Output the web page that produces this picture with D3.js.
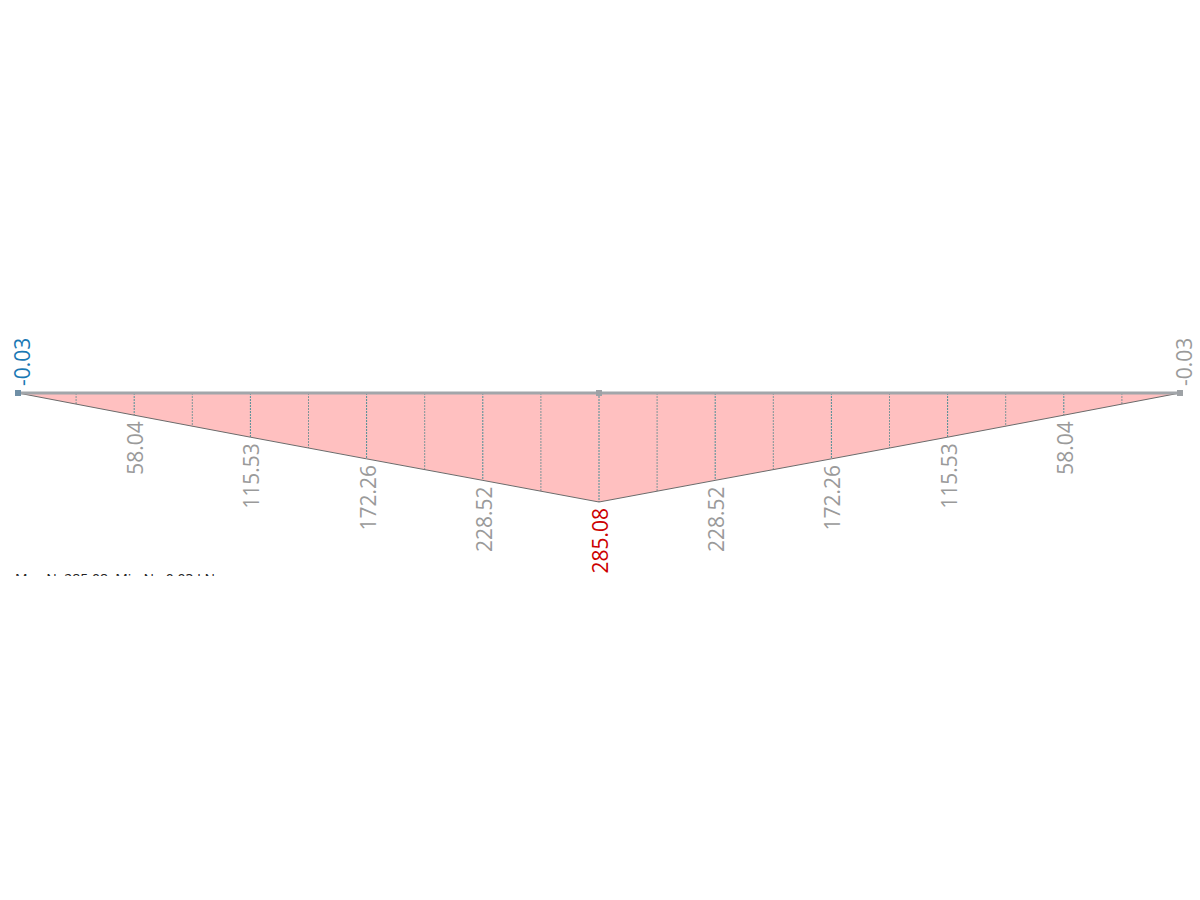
<!DOCTYPE html>
<html><head><meta charset="utf-8">
<script src="https://cdn.jsdelivr.net/npm/d3@7"></script>
<style>html,body{margin:0;padding:0;background:#fff;}svg{display:block;}</style>
</head><body>
<svg id="chart" width="1200" height="900"></svg>
<script>
// Beam positions (fraction of length) where result values are given
const positions = [0, 0.1, 0.2, 0.3, 0.4, 0.5, 0.6, 0.7, 0.8, 0.9, 1.0];
const values = [-0.03, 58.04, 115.53, 172.26, 228.52, 285.08, 228.52, 172.26, 115.53, 58.04, -0.03];
const labels = ["-0.03", "58.04", "115.53", "172.26", "228.52", "285.08", "228.52", "172.26", "115.53", "58.04", "-0.03"];
// hatch (section) lines along the beam
const hatchPositions = [0.05,0.1,0.15,0.2,0.25,0.3,0.35,0.4,0.45,0.5,0.55,0.6,0.65,0.7,0.75,0.8,0.85,0.9,0.95];
const nodePositions = [0, 0.5, 1];
const footerText = "Max N: 285.08, Min N: -0.03 kN";

const svg = d3.select("#chart");
const x = d3.scaleLinear().domain([0, 1]).range([18, 1180]);
const y = d3.scaleLinear().domain([0, 285.08]).range([393, 502]);
const valAt = d3.scaleLinear().domain(positions).range(values);

// area
const area = d3.area().x((d, i) => x(positions[i])).y0(y(0)).y1(d => y(Math.max(d, 0)));
svg.append("path").datum(values).attr("d", area).attr("fill", "#ffc0c0").attr("stroke", "none");

// hatch lines
svg.selectAll("line.hatch").data(hatchPositions).join("line")
  .attr("x1", d => x(d)).attr("x2", d => x(d))
  .attr("y1", y(0)).attr("y2", d => y(valAt(d)))
  .attr("stroke", (d, i) => i % 2 === 1 ? "#4f8f96" : "#7f9598")
  .attr("stroke-width", 1).attr("stroke-dasharray", "2,1");

// outline
const line = d3.line().x((d, i) => x(positions[i])).y(d => y(Math.max(d, 0)));
svg.append("path").datum(values).attr("d", line).attr("fill", "none").attr("stroke", "#6b6b6b").attr("stroke-width", 1);

// beam
svg.append("line").attr("x1", x(0)).attr("x2", x(1)).attr("y1", y(0)).attr("y2", y(0))
  .attr("stroke", "#a2a6aa").attr("stroke-width", 3);

// nodes
svg.selectAll("rect.node").data(nodePositions).join("rect")
  .attr("x", d => x(d) - 3).attr("y", y(0) - 3).attr("width", 6).attr("height", 6)
  .attr("fill", (d, i) => i === 0 ? "#6f8fa6" : "#9ea2a6");

// labels
const color = (i) => i === 0 ? "#1a78b4" : (i === 5 ? "#cc0000" : "#9a9a9a");
svg.selectAll("text.lbl").data(values).join("text")
  .attr("class", "lbl")
  .attr("transform", (d, i) => {
    const px = x(positions[i]);
    if (i === 0 || i === values.length - 1) return `translate(${px + 4},${y(0) - 7}) rotate(-90)`;
    return `translate(${px + 1},${y(d) + 6}) rotate(-90)`;
  })
  .attr("text-anchor", (d, i) => (i === 0 || i === values.length - 1) ? "start" : "end")
  .attr("dominant-baseline", "central")
  .attr("font-family", "'Open Sans', sans-serif")
  .attr("font-size", 21)
  .attr("fill", (d, i) => color(i))
  .text((d, i) => labels[i]);

// clipped footer text
svg.append("clipPath").attr("id", "fclip").append("rect").attr("x", 0).attr("y", 574).attr("width", 400).attr("height", 2);
svg.append("text").attr("x", 15).attr("y", 584).attr("clip-path", "url(#fclip)")
  .attr("font-family", "'Open Sans', sans-serif").attr("font-size", 14).attr("fill", "#222")
  .text(footerText);
</script>
</body></html>
